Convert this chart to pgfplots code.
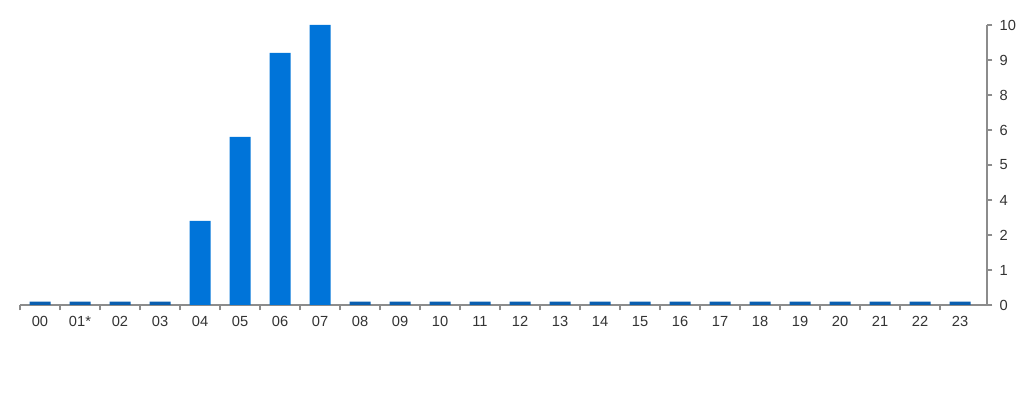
\documentclass[border=0pt]{standalone}
\usepackage{pgfplots}
\pgfplotsset{compat=1.18}
\usepackage{fontspec}
\setmainfont{Liberation Sans}
\definecolor{barblue}{HTML}{0074D9}
\definecolor{stubblue}{HTML}{0A5FB0}
\definecolor{axisgray}{HTML}{8C8C8C}
\definecolor{labelgray}{HTML}{333333}
\begin{document}
\begin{tikzpicture}
\useasboundingbox (0pt,0pt) rectangle (768pt,300pt);
\begin{axis}[
    at={(15pt,71.25pt)}, anchor=south west,
    scale only axis,
    width=725.25pt, height=210pt,
    xmin=-0.5, xmax=23.675,
    ymin=0, ymax=10,
    axis x line*=bottom,
    axis y line*=right,
    axis line style={axisgray, line width=1.2pt},
    xtick={0,...,23},
    xticklabels={00,01*,02,03,04,05,06,07,08,09,10,11,12,13,14,15,16,17,18,19,20,21,22,23},
    minor xtick={-0.5,0.5,...,22.5},
    major x tick style={draw=none},
    minor tick length=4pt,
    ytick={0,1.25,2.5,3.75,5,6.25,7.5,8.75,10},
    yticklabels={0,1,2,4,5,6,8,9,10},
    major tick length=4pt,
    tick align=outside,
    tick style={axisgray, line width=1pt},
    ticklabel style={font=\fontsize{11}{13}\selectfont, text=labelgray},
    /pgf/number format/assume math mode=true,
    xticklabel style={yshift=-1pt},
    yticklabel style={xshift=2pt},
    ybar, bar shift=0pt, bar width=15.75pt,
    clip=false,
]
% zero hours shown as thin stubs
\addplot[fill=stubblue, draw=none] coordinates {
  (0,0.12) (1,0.12) (2,0.12) (3,0.12)
  (8,0.12) (9,0.12) (10,0.12) (11,0.12) (12,0.12) (13,0.12) (14,0.12) (15,0.12)
  (16,0.12) (17,0.12) (18,0.12) (19,0.12) (20,0.12) (21,0.12) (22,0.12) (23,0.12)
};
\addplot[fill=barblue, draw=none] coordinates {
  (4,3) (5,6) (6,9) (7,10)
};
\end{axis}
\end{tikzpicture}
\end{document}
